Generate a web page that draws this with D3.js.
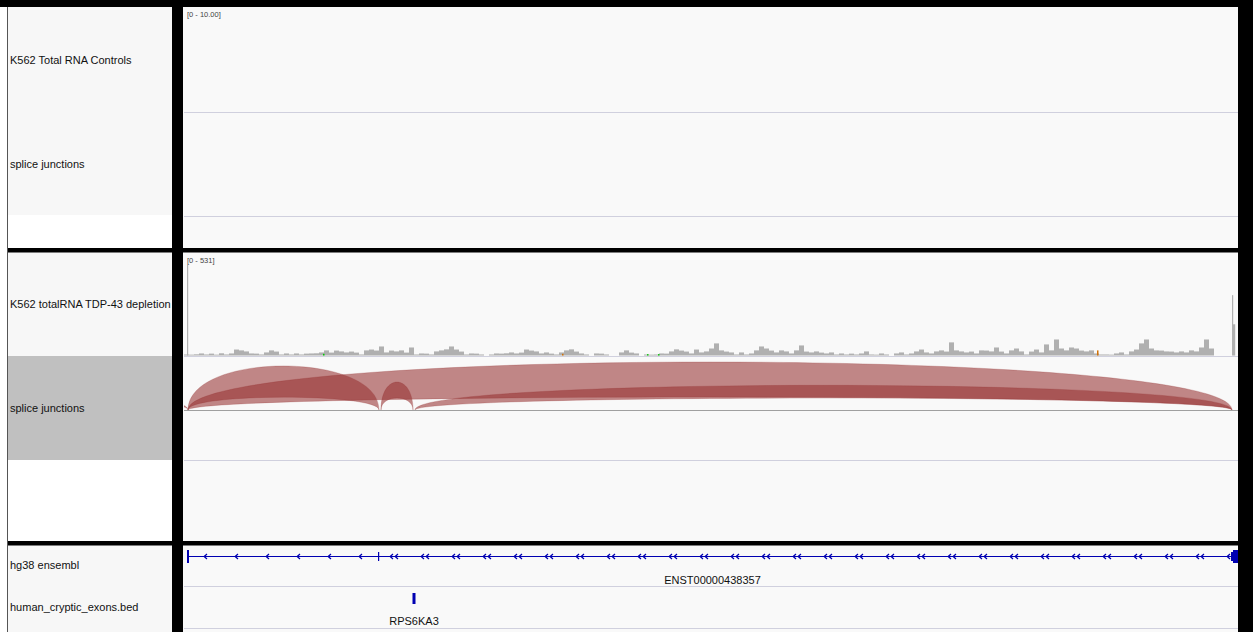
<!DOCTYPE html>
<html><head><meta charset="utf-8">
<script src="https://cdn.jsdelivr.net/npm/d3@7"></script>
<style>
body{margin:0;background:#fff;}
svg{display:block;}
text{font-family:"Liberation Sans",Arial,Helvetica,sans-serif;}
</style>
</head><body>
<svg id="c" width="1253" height="632"></svg>
<script>
// ---------------- DATA ----------------
const viewStart = 20149000, viewEnd = 20268102;   // chrX locus shown
const trackNames = ["K562 Total RNA Controls", "splice junctions",
  "K562 totalRNA TDP-43 depletion", "splice junctions",
  "hg38 ensembl", "human_cryptic_exons.bed"];
const dataRanges = ["[0 - 10.00]", "[0 - 531]"];
const controlMax = 10, depletionMax = 531;

// TDP-43 depletion coverage, binned (reads per bin)
const covBinStart = 20149000, covBinSize = 565;
const tdpCoverage = [
  6,5,7,12,6,11,5,13,6,12,
  35,30,24,12,11,6,18,30,23,6,
  12,6,12,6,11,12,13,18,30,17,
  29,24,18,23,17,6,30,35,29,53,
  18,29,24,30,17,47,6,12,11,6,
  24,30,36,53,35,23,6,12,11,6,
  0,6,12,11,13,18,12,17,35,29,
  24,12,18,11,6,18,30,36,23,12,
  6,0,12,11,6,0,0,18,30,17,
  12,0,6,5,6,12,11,24,36,29,
  23,12,35,18,24,41,71,30,23,18,
  6,18,6,12,30,53,41,29,18,30,
  24,12,30,59,23,18,24,17,12,18,
  6,12,6,11,6,12,24,6,5,12,
  6,0,12,18,6,12,24,35,18,12,
  24,30,23,77,30,24,18,23,12,30,
  29,24,47,23,12,30,41,24,6,23,
  35,18,65,30,94,41,30,47,41,29,
  24,30,12,6,6,5,12,18,6,24,
  35,71,94,41,30,29,24,23,18,24,
  18,30,24,47,94,41,0,0,0,0,
  0
];
// narrow high-coverage spikes (single-base-width columns)
const spikePos = [20149339, 20267424, 20267537, 20267650];
const spikeVal = [531, 354, 183, 183];
// mismatch columns
const mismatchPos = [20164707, 20191714, 20201319, 20202562, 20252169];
const mismatchBase = ["A", "G", "A", "A", "G"];
const mismatchCount = [10, 10, 8, 8, 30];

// splice junctions (TDP-43 depletion)
const juncStart = [20145158, 20149452, 20149452, 20171261, 20175103];
const juncEnd   = [20149452, 20171035, 20267424, 20174877, 20267424];
const juncDepth = [60, 378, 412, 240, 212];

// gene annotation (hg38 ensembl, collapsed)
const txLabel = ["ENST00000438357", ""];
const txStart = [20149339, 20170922];
const txEnd   = [20268102, 20268102];
const exonStart = [20149339, 20170922, 20267311, 20267537];
const exonEnd   = [20149565, 20171035, 20267537, 20268102];
const exonKind  = ["cds", "utr", "utr", "cds"];

// cryptic exon bed
const crypticStart = [20174764];
const crypticEnd   = [20175216];
const crypticName  = ["RPS6KA3"];

// ---------------- DRAW ----------------
const svg = d3.select("#c");
const X0 = 184, X1 = 1238;
const x = d3.scaleLinear().domain([viewStart, viewEnd]).range([X0, X1]);
const baseColors = {A: "#00c800", C: "#0000ff", G: "#d17105", T: "#ff0000"};
const blue = "rgb(0,0,178)";

svg.append("rect").attr("width", 1253).attr("height", 632).attr("fill", "#ffffff");
// data panel background
svg.append("rect").attr("x", 183).attr("y", 7).attr("width", X1 - 183).attr("height", 625).attr("fill", "#f9f9f9");

// name panel backgrounds
const nameBg = [[7, 215, "#f7f7f7"], [215, 248, "#ffffff"], [252, 356, "#f7f7f7"],
  [356, 460, "#c0c0c0"], [460, 541, "#ffffff"], [545, 632, "#f7f7f7"]];
svg.selectAll("rect.nbg").data(nameBg).enter().append("rect")
  .attr("x", 8).attr("y", d => d[0]).attr("width", 164).attr("height", d => d[1] - d[0])
  .attr("fill", d => d[2]);

// separator lines in data panel
const seps = [112, 216, 356, 460, 586, 628];
svg.selectAll("line.sep").data(seps).enter().append("line")
  .attr("x1", X0).attr("x2", X1).attr("y1", d => d + 0.5).attr("y2", d => d + 0.5)
  .attr("stroke", "#d0d0de").attr("stroke-width", 1);

// track names
const nameY = [64, 168, 308, 412, 569, 611];
svg.selectAll("text.tn").data(trackNames).enter().append("text")
  .attr("x", 10).attr("y", (d, i) => nameY[i]).attr("font-size", 11).attr("fill", "#111")
  .text(d => d);

// data range labels
svg.append("text").attr("x", 187).attr("y", 17).attr("font-size", 7.5).attr("fill", "#444").text(dataRanges[0]);
svg.append("text").attr("x", 187).attr("y", 263).attr("font-size", 7.5).attr("fill", "#444").text(dataRanges[1]);

// coverage (TDP-43 depletion)
const yCov = d3.scaleLinear().domain([0, depletionMax]).range([355.5, 265]);
const gCov = svg.append("g");
gCov.selectAll("rect.cov").data(tdpCoverage).enter().append("rect")
  .attr("x", (d, i) => x(covBinStart + i * covBinSize))
  .attr("width", x(covBinStart + covBinSize) - x(covBinStart))
  .attr("y", d => yCov(d)).attr("height", d => yCov(0) - yCov(d))
  .attr("fill", "#b0b0b0");
gCov.selectAll("rect.sp").data(spikePos).enter().append("rect")
  .attr("x", d => x(d)).attr("width", 1.2)
  .attr("y", (d, i) => yCov(spikeVal[i])).attr("height", (d, i) => yCov(0) - yCov(spikeVal[i]))
  .attr("fill", "#b0b0b0");
gCov.selectAll("rect.mm").data(mismatchPos).enter().append("rect")
  .attr("x", d => x(d)).attr("width", 1.5)
  .attr("y", (d, i) => yCov(mismatchCount[i])).attr("height", (d, i) => yCov(0) - yCov(mismatchCount[i]))
  .attr("fill", (d, i) => baseColors[mismatchBase[i]]);

// splice junctions
const jBase = 410;
svg.append("line").attr("x1", X0).attr("x2", X1).attr("y1", jBase + 0.5).attr("y2", jBase + 0.5)
  .attr("stroke", "#a0a0a0").attr("stroke-width", 1);
svg.append("clipPath").attr("id", "jclip").append("rect")
  .attr("x", X0).attr("y", 356).attr("width", X1 - X0).attr("height", 104);
const depthMax = d3.max(juncDepth);
const hOuter = d3.scaleLinear().domain([0, depthMax]).range([0, 64]);
const thick = d => Math.max(3, 0.1485 * d - 14.5);
const gJ = svg.append("g").attr("clip-path", "url(#jclip)");
juncStart.forEach((s, i) => {
  const x1 = x(s), x2 = x(juncEnd[i]);
  const ho = hOuter(juncDepth[i]);
  const hi = Math.max(0, ho - thick(juncDepth[i]));
  const p = d3.path();
  p.moveTo(x1, jBase);
  p.bezierCurveTo(x1, jBase - ho, x2, jBase - ho, x2, jBase);
  p.bezierCurveTo(x2, jBase - hi, x1, jBase - hi, x1, jBase);
  p.closePath();
  gJ.append("path").attr("d", p.toString())
    .attr("fill", "rgb(150,50,50)").attr("fill-opacity", 0.58)
    .attr("stroke", "rgb(150,50,50)").attr("stroke-opacity", 0.35).attr("stroke-width", 0.7);
});

// gene track
const gY = 556.5;
const gG = svg.append("g");
txStart.forEach((s, i) => {
  const a = x(s), b = Math.min(x(txEnd[i]), X1);
  gG.append("line").attr("x1", a).attr("x2", b).attr("y1", gY).attr("y2", gY)
    .attr("stroke", blue).attr("stroke-width", 1);
  for (let cx = a + 18; cx < b - 6; cx += 31) {
    gG.append("path")
      .attr("d", `M${cx + 2},${gY - 2.5} L${cx - 0.8},${gY} L${cx + 2},${gY + 2.5}`)
      .attr("fill", "none").attr("stroke", blue).attr("stroke-width", 1.3);
  }
  if (txLabel[i]) {
    gG.append("text").attr("x", (a + b) / 2).attr("y", 584).attr("text-anchor", "middle")
      .attr("font-size", 11).attr("fill", "#111").text(txLabel[i]);
  }
});
exonStart.forEach((s, i) => {
  const a = x(s), b = Math.min(x(exonEnd[i]), X1);
  const h = exonKind[i] === "cds" ? 13 : 9;
  gG.append("rect").attr("x", a).attr("width", Math.max(1.2, b - a))
    .attr("y", gY - h / 2).attr("height", h).attr("fill", blue);
});

// cryptic exons
crypticStart.forEach((s, i) => {
  const a = x(s), b = x(crypticEnd[i]);
  svg.append("rect").attr("x", (a + b) / 2 - 1.5).attr("width", 3)
    .attr("y", 593).attr("height", 11).attr("fill", blue);
  svg.append("text").attr("x", (a + b) / 2).attr("y", 625).attr("text-anchor", "middle")
    .attr("font-size", 11).attr("fill", "#111").text(crypticName[i]);
});

// frame: black bars
const black = [[0, 0, 1253, 7], [7, 248, X1 - 7, 4.5], [7, 541, X1 - 7, 4.5],
  [172, 0, 11, 632], [X1, 0, 1253 - X1, 632]];
svg.selectAll("rect.blk").data(black).enter().append("rect")
  .attr("x", d => d[0]).attr("y", d => d[1]).attr("width", d => d[2]).attr("height", d => d[3])
  .attr("fill", "#000");
svg.append("line").attr("x1", 7.5).attr("x2", 7.5).attr("y1", 7).attr("y2", 632)
  .attr("stroke", "#555").attr("stroke-width", 1);
</script>
</body></html>
